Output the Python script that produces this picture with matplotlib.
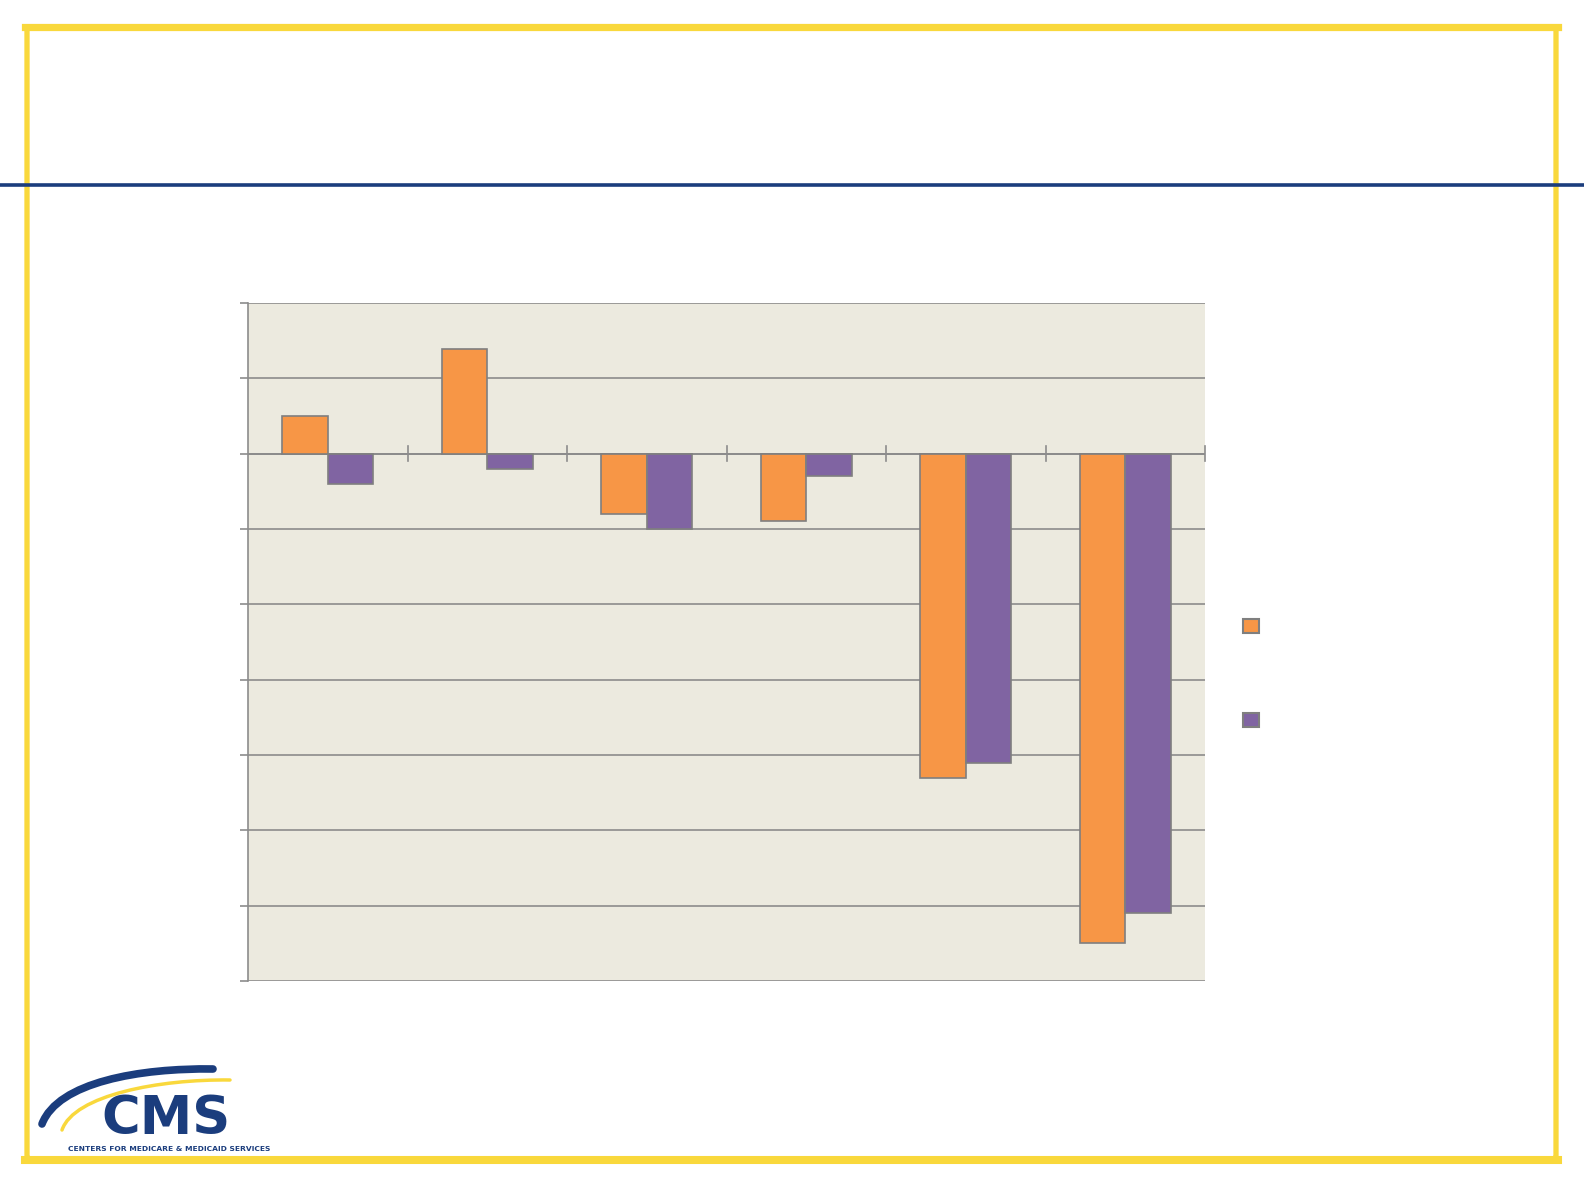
import numpy as np
import matplotlib
matplotlib.use("Agg")
import matplotlib.pyplot as plt
from matplotlib.patches import FancyBboxPatch, Patch, PathPatch
from matplotlib.path import Path

# chart values (gridline units)
categories = ["1", "2", "3", "4", "5", "6"]
series_a = [0.5, 1.39, -0.80, -0.90, -4.30, -6.50]
series_b = [-0.40, -0.20, -1.00, -0.30, -4.10, -6.10]
series_names = ["", ""]
y_ticks = [2, 1, 0, -1, -2, -3, -4, -5, -6, -7]

orange = "#F79646"
purple = "#8064A2"
edge = "#7F7F7F"
bg = "#ECEADF"
yellow = "#F9D83C"
navy = "#1B3D7D"

fig = plt.figure(figsize=(15.84, 11.88), dpi=100)

def fx(px):
    return px / 1584

def fy(py):
    return 1 - py / 1188

# slide frame
frame = FancyBboxPatch((fx(27), fy(1159)), fx(1556) - fx(27), fy(27) - fy(1159),
                       boxstyle="round,pad=0,rounding_size=0.003",
                       transform=fig.transFigure, fill=False,
                       edgecolor=yellow, linewidth=3.8, zorder=1)
fig.patches.append(frame)
fig.add_artist(plt.Line2D([fx(25), fx(1558)], [fy(26.5), fy(26.5)],
                          transform=fig.transFigure, color=yellow, linewidth=5.2))
fig.add_artist(plt.Line2D([fx(25), fx(1558)], [fy(1159.5), fy(1159.5)],
                          transform=fig.transFigure, color=yellow, linewidth=5.8))
fig.add_artist(plt.Line2D([0, 1], [fy(184.5), fy(184.5)],
                          transform=fig.transFigure, color=navy, linewidth=2.6))

ax = fig.add_axes([fx(248), fy(981), fx(1205) - fx(248), fy(303) - fy(981)])
ax.set_facecolor(bg)

x = np.arange(len(categories))
w = 0.285
ax.bar(x - w / 2, series_a, w, color=orange, edgecolor=edge, linewidth=1.2,
       label=series_names[0], zorder=3)
ax.bar(x + w / 2, series_b, w, color=purple, edgecolor=edge, linewidth=1.2,
       label=series_names[1], zorder=3)

ax.set_xlim(-0.5, len(categories) - 0.5)
ax.set_ylim(-7, 2)
ax.set_yticks(y_ticks)
ax.set_yticklabels([])
ax.yaxis.grid(True, color="#8C8C8C", linewidth=1.2, zorder=1)
ax.set_axisbelow(True)
ax.tick_params(axis="y", length=6, width=1.2, color="#8C8C8C", direction="out")

for s in ["top", "right", "bottom"]:
    ax.spines[s].set_visible(False)
ax.spines["left"].set_color("#8C8C8C")
ax.spines["left"].set_linewidth(1.2)

# category axis on the zero line
ax.axhline(0, color="#8C8C8C", linewidth=1.4, zorder=2)
ax.set_xticks([])
for b in np.arange(0.5, len(categories), 1.0):
    ax.plot([b, b], [-0.1, 0.1], color="#8C8C8C", linewidth=1.2, zorder=2, clip_on=False)

handles = [Patch(facecolor=orange, edgecolor=edge, linewidth=1.5),
           Patch(facecolor=purple, edgecolor=edge, linewidth=1.5)]
ax.legend(handles, series_names, loc="center left", bbox_to_anchor=(1.025, 0.453),
          frameon=False, fontsize=11.5, handlelength=1.0, handleheight=1.0,
          labelspacing=4.9, handletextpad=0.4)

# CMS logo
def swoosh(pts, color, lw):
    p = Path([(fx(a), fy(b)) for a, b in pts],
             [Path.MOVETO, Path.CURVE4, Path.CURVE4, Path.CURVE4])
    fig.add_artist(PathPatch(p, transform=fig.transFigure, fill=False,
                             edgecolor=color, linewidth=lw, capstyle="round"))

swoosh([(42, 1124), (58, 1082), (140, 1068), (213, 1069)], navy, 5.5)
swoosh([(62, 1130), (74, 1095), (160, 1079), (230, 1080)], yellow, 2.5)
fig.text(fx(166), fy(1134), "CMS", ha="center", va="baseline",
         fontsize=38, fontweight="black", color=navy, family="DejaVu Sans")
fig.text(fx(169), fy(1149), "CENTERS FOR MEDICARE & MEDICAID SERVICES",
         ha="center", va="center", fontsize=5.4, fontweight="bold", color=navy,
         family=["Liberation Sans Narrow", "DejaVu Sans"])

fig.savefig("out.png", dpi=100)
